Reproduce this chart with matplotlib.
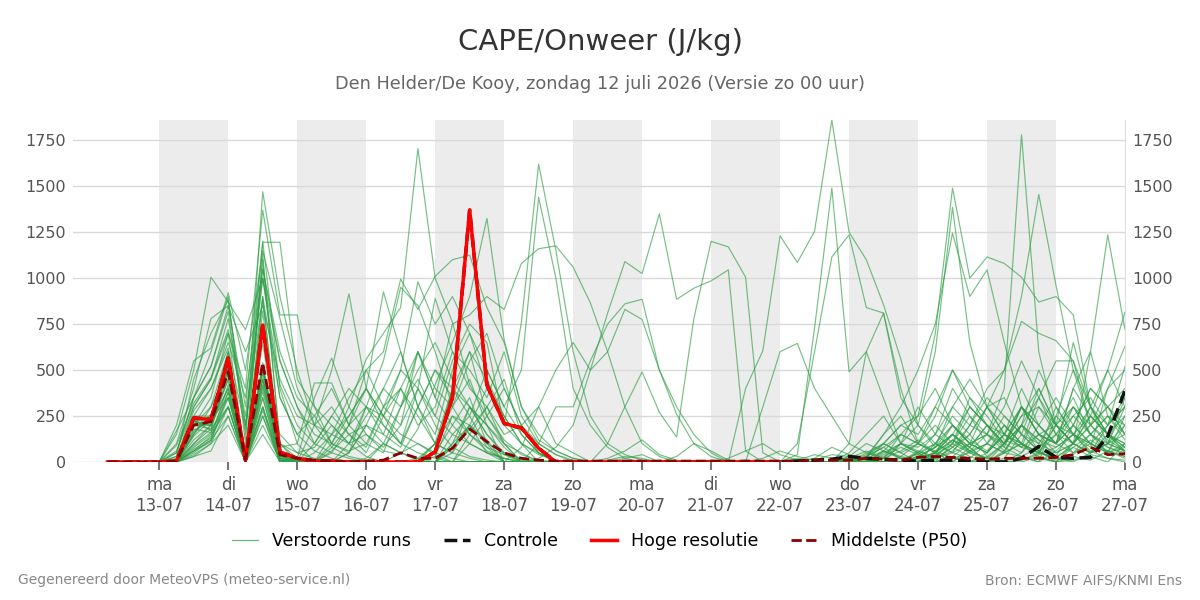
import matplotlib
matplotlib.use("Agg")
import matplotlib.pyplot as plt
from matplotlib.lines import Line2D
import pandas as pd

# run: zo 12-07 00 uur, 6-uurlijkse stappen vanaf 12-07 06:00
START = "2026-07-12 06:00"
N_STEPS = 60

weekdays = ["ma", "di", "wo", "do", "vr", "za", "zo", "ma", "di", "wo", "do", "vr", "za", "zo", "ma"]
day_labels = ["13-07", "14-07", "15-07", "16-07", "17-07", "18-07", "19-07", "20-07",
              "21-07", "22-07", "23-07", "24-07", "25-07", "26-07", "27-07"]

# hoge resolutie loopt t/m 22-07 00 uur
hoge_resolutie = [0, 0, 0, 0, 5, 240, 230, 565, 10, 745, 55, 20, 5, 5, 0, 0, 0, 0, 0,
                  55, 350, 1370, 420, 210, 185, 75, 0, 0, 0, 0, 0,
                  0, 0, 0, 0, 0, 0, 0, 0, 0]

controle = [0, 0, 0, 0, 5, 240, 230, 565, 10, 745, 55, 20, 5, 5, 0, 0, 0, 0, 0,
            55, 350, 1370, 420, 210, 185, 75, 0, 0, 0, 0, 0,
            0, 0, 0, 0, 0, 0, 0, 0, 0, 5, 10, 15, 30, 20, 15, 10, 5, 10, 10, 5,
            0, 0, 20, 85, 25, 20, 25, 140, 390]

middelste = [0, 0, 0, 0, 5, 200, 220, 490, 15, 540, 40, 20, 10, 5, 0, 5, 10, 50, 20,
             20, 75, 180, 110, 50, 20, 10, 5, 5, 5, 5, 5,
             5, 5, 5, 5, 5, 5, 5, 5, 5, 5, 10, 10, 10, 20, 15, 10, 25, 30, 25, 20,
             15, 20, 20, 20, 25, 40, 80, 40, 45]

verstoorde_runs = [
    [0, 0, 0, 0, 0, 150, 300, 500, 10, 900, 60, 20, 0, 100, 300, 560, 700, 840, 1705, 1000, 760, 420, 250, 120, 40, 10, 0, 0, 0, 20, 60,
     120, 40, 10, 0, 0, 0, 0, 20, 60, 30, 10, 40, 30, 10, 0, 20, 40, 10, 80, 30, 0, 20, 150, 60, 10, 40, 120, 60, 30],
    [0, 0, 0, 0, 100, 400, 780, 850, 300, 1195, 1195, 450, 300, 200, 100, 150, 60, 40, 180, 420, 650, 900, 1325, 665, 300, 150, 60, 20, 0, 0, 0,
     0, 10, 0, 0, 0, 20, 60, 100, 40, 10, 0, 0, 30, 100, 60, 20, 0, 30, 120, 50, 20, 0, 10, 40, 80, 150, 60, 20, 10],
    [0, 0, 0, 0, 50, 350, 600, 900, 100, 1470, 900, 500, 200, 80, 30, 10, 0, 0, 0, 0, 50, 200, 400, 250, 100, 40, 10, 0, 0, 0, 0,
     0, 0, 30, 100, 60, 10, 0, 0, 0, 0, 20, 80, 40, 10, 0, 0, 0, 20, 60, 150, 300, 200, 100, 50, 20, 100, 250, 150, 60],
    [0, 0, 0, 0, 20, 300, 450, 700, 400, 1370, 800, 800, 300, 100, 250, 400, 200, 100, 50, 20, 0, 0, 0, 0, 0, 0, 0, 0, 0, 0, 0,
     0, 0, 0, 0, 0, 0, 0, 0, 0, 10, 40, 20, 0, 0, 0, 0, 30, 80, 150, 60, 20, 0, 50, 200, 350, 200, 100, 50, 100],
    [0, 0, 0, 0, 0, 200, 200, 450, 0, 700, 50, 20, 350, 565, 300, 150, 80, 200, 400, 200, 80, 30, 10, 0, 0, 0, 0, 0, 0, 10, 30,
     20, 0, 0, 0, 0, 0, 0, 0, 0, 0, 0, 0, 0, 20, 60, 30, 10, 0, 30, 0, 0, 50, 100, 20, 0, 30, 10, 60, 20],
    [0, 0, 0, 0, 0, 220, 250, 550, 0, 420, 80, 100, 430, 430, 200, 100, 50, 300, 600, 350, 200, 100, 50, 20, 0, 0, 0, 0, 0, 0, 0,
     0, 0, 0, 0, 0, 0, 10, 0, 0, 0, 0, 0, 0, 0, 40, 100, 50, 0, 100, 50, 0, 100, 200, 350, 150, 50, 100, 200, 300],
    [0, 0, 0, 0, 0, 80, 150, 300, 0, 400, 20, 0, 200, 500, 915, 400, 250, 150, 100, 50, 20, 0, 0, 0, 0, 0, 0, 0, 0, 0, 0,
     0, 0, 0, 0, 10, 0, 0, 0, 0, 0, 0, 0, 0, 30, 80, 20, 0, 0, 20, 0, 10, 0, 0, 30, 0, 10, 40, 20, 0],
    [0, 0, 0, 0, 0, 200, 300, 600, 20, 1130, 100, 0, 0, 150, 250, 400, 925, 600, 300, 100, 50, 20, 0, 0, 0, 0, 0, 0, 0, 0, 0,
     0, 0, 0, 0, 0, 0, 0, 0, 0, 0, 0, 0, 30, 10, 0, 0, 60, 30, 100, 250, 150, 300, 550, 350, 200, 100, 50, 150, 250],
    [0, 0, 0, 0, 0, 200, 220, 400, 10, 500, 30, 10, 0, 0, 100, 300, 550, 950, 850, 600, 300, 150, 80, 40, 10, 0, 0, 0, 0, 0, 0,
     0, 0, 0, 0, 0, 0, 0, 0, 0, 0, 0, 0, 0, 0, 0, 0, 20, 50, 120, 80, 0, 10, 30, 0, 250, 500, 300, 150, 100],
    [0, 0, 0, 0, 0, 180, 160, 350, 0, 300, 20, 0, 0, 80, 200, 500, 600, 995, 830, 1010, 1100, 1125, 840, 650, 300, 120, 60, 20, 0, 0, 0,
     0, 0, 0, 0, 0, 0, 0, 0, 0, 0, 0, 0, 0, 0, 0, 30, 100, 60, 20, 0, 50, 150, 80, 300, 200, 100, 600, 250, 150],
    [0, 0, 0, 0, 50, 350, 520, 820, 150, 1200, 400, 100, 0, 0, 50, 300, 250, 400, 600, 350, 750, 800, 900, 830, 1080, 1160, 1175, 1060, 865, 600, 300,
     100, 30, 0, 0, 0, 0, 0, 0, 0, 0, 0, 0, 20, 60, 20, 0, 0, 100, 200, 120, 60, 150, 300, 150, 100, 200, 400, 300, 200],
    [0, 0, 0, 0, 0, 60, 120, 250, 0, 200, 10, 0, 0, 0, 0, 0, 100, 300, 450, 250, 550, 750, 650, 200, 760, 1620, 1150, 600, 250, 100, 40,
     10, 0, 0, 0, 0, 0, 0, 0, 0, 0, 0, 0, 0, 0, 20, 60, 120, 50, 0, 60, 150, 100, 200, 500, 300, 150, 80, 400, 500],
    [0, 0, 0, 0, 0, 200, 180, 480, 5, 450, 30, 0, 0, 0, 50, 200, 150, 80, 300, 500, 400, 250, 500, 300, 500, 1440, 1000, 400, 200, 80, 20,
     0, 0, 0, 0, 0, 0, 0, 0, 0, 0, 0, 0, 0, 30, 100, 50, 0, 20, 80, 150, 30, 0, 10, 50, 200, 650, 300, 150, 50],
    [0, 0, 0, 0, 0, 40, 100, 200, 0, 150, 0, 0, 0, 0, 0, 0, 0, 50, 100, 40, 0, 0, 0, 0, 0, 20, 80, 200, 500, 810, 1090,
     1025, 1350, 885, 945, 985, 1045, 60, 0, 0, 0, 0, 0, 0, 0, 0, 0, 20, 50, 150, 80, 0, 60, 200, 120, 30, 80, 150, 250, 120],
    [0, 0, 0, 0, 30, 250, 400, 650, 350, 1050, 550, 300, 150, 100, 60, 100, 300, 500, 400, 250, 150, 100, 50, 20, 0, 100, 300, 300, 550, 750, 860,
     885, 500, 260, 100, 30, 0, 0, 0, 0, 0, 0, 0, 0, 0, 0, 0, 30, 80, 200, 100, 50, 150, 100, 30, 0, 100, 200, 300, 400],
    [0, 0, 0, 0, 0, 210, 200, 520, 10, 540, 40, 0, 0, 60, 150, 200, 100, 50, 20, 0, 100, 200, 120, 0, 80, 300, 500, 650, 500, 600, 830,
     775, 500, 300, 150, 50, 0, 0, 0, 0, 0, 0, 0, 0, 0, 0, 0, 0, 50, 120, 60, 20, 100, 250, 400, 200, 100, 50, 100, 150],
    [0, 0, 0, 0, 0, 200, 350, 700, 20, 1100, 100, 20, 0, 0, 0, 0, 0, 0, 20, 100, 250, 150, 60, 20, 0, 0, 0, 0, 0, 100, 300,
     490, 270, 135, 780, 1200, 1170, 1005, 50, 0, 0, 0, 0, 0, 0, 0, 0, 0, 0, 30, 100, 150, 80, 300, 200, 100, 400, 250, 150, 80],
    [0, 0, 0, 0, 10, 280, 400, 620, 180, 1000, 420, 200, 100, 50, 20, 0, 0, 0, 0, 0, 100, 300, 150, 40, 0, 0, 0, 0, 0, 0, 0,
     0, 0, 0, 0, 0, 0, 400, 605, 1230, 1085, 1255, 1860, 1250, 1100, 855, 560, 200, 80, 300, 450, 300, 150, 80, 50, 200, 150, 100, 60, 30],
    [0, 0, 0, 0, 0, 70, 130, 420, 0, 350, 10, 0, 0, 0, 0, 0, 0, 0, 0, 50, 200, 350, 100, 0, 0, 0, 0, 0, 0, 0, 0,
     0, 0, 0, 0, 0, 0, 0, 0, 0, 40, 730, 1490, 490, 600, 345, 100, 50, 150, 400, 250, 100, 50, 200, 100, 50, 100, 300, 150, 100],
    [0, 0, 0, 0, 0, 30, 100, 300, 0, 250, 0, 0, 0, 0, 0, 0, 0, 0, 0, 0, 150, 250, 80, 0, 0, 0, 0, 0, 0, 0, 0,
     0, 0, 0, 0, 0, 0, 0, 0, 0, 100, 600, 1115, 1235, 840, 810, 400, 100, 250, 500, 300, 200, 100, 300, 150, 100, 250, 150, 80, 50],
    [0, 0, 0, 0, 0, 160, 250, 580, 20, 520, 50, 0, 0, 0, 0, 0, 0, 0, 0, 100, 300, 450, 200, 0, 0, 0, 0, 0, 0, 0, 20,
     40, 0, 0, 0, 0, 0, 0, 300, 600, 645, 400, 250, 100, 600, 810, 350, 200, 100, 50, 20, 100, 200, 100, 50, 150, 300, 200, 120, 60],
    [0, 0, 0, 0, 0, 220, 200, 560, 0, 450, 40, 10, 0, 0, 0, 0, 0, 0, 0, 0, 80, 180, 300, 100, 0, 0, 0, 0, 0, 0, 0,
     0, 0, 0, 0, 0, 0, 0, 0, 0, 0, 0, 0, 0, 50, 100, 200, 250, 700, 1490, 1000, 1115, 1080, 1005, 870, 900, 800, 300, 100, 60],
    [0, 0, 0, 0, 0, 140, 230, 500, 5, 520, 20, 0, 0, 0, 0, 0, 0, 0, 0, 30, 250, 200, 50, 0, 0, 0, 0, 0, 0, 0, 0,
     0, 0, 0, 0, 0, 0, 0, 0, 0, 0, 0, 0, 20, 0, 0, 100, 200, 600, 1385, 650, 300, 150, 400, 200, 100, 300, 150, 50, 200],
    [0, 0, 0, 0, 60, 300, 450, 780, 200, 900, 350, 150, 60, 20, 0, 0, 0, 0, 0, 60, 400, 600, 250, 100, 0, 0, 0, 0, 0, 0, 0,
     0, 0, 0, 0, 0, 0, 0, 0, 0, 0, 0, 0, 0, 30, 150, 300, 500, 750, 1245, 900, 1045, 650, 300, 150, 50, 100, 200, 300, 150],
    [0, 0, 0, 0, 0, 60, 110, 380, 0, 280, 0, 0, 0, 0, 0, 0, 0, 0, 0, 0, 0, 0, 0, 0, 0, 0, 0, 0, 0, 0, 0,
     0, 0, 0, 0, 0, 0, 0, 0, 0, 0, 0, 0, 0, 0, 50, 100, 80, 150, 300, 200, 150, 400, 1780, 600, 200, 100, 250, 150, 80],
    [0, 0, 0, 0, 0, 230, 170, 520, 0, 480, 10, 0, 0, 0, 0, 0, 0, 0, 0, 0, 0, 0, 0, 0, 0, 0, 0, 0, 0, 0, 0,
     0, 0, 0, 0, 0, 0, 0, 0, 0, 0, 0, 0, 0, 0, 30, 80, 40, 100, 250, 150, 300, 500, 900, 1455, 960, 500, 200, 100, 300],
    [0, 0, 0, 0, 0, 250, 250, 600, 30, 880, 60, 20, 0, 0, 0, 0, 0, 0, 0, 0, 0, 0, 0, 0, 0, 0, 0, 0, 0, 0, 0,
     0, 0, 0, 0, 0, 0, 0, 0, 0, 0, 0, 0, 0, 40, 100, 50, 100, 200, 100, 300, 200, 100, 300, 150, 100, 400, 600, 1235, 720],
    [0, 0, 0, 0, 0, 220, 210, 500, 10, 820, 40, 0, 0, 0, 0, 0, 0, 0, 0, 0, 0, 0, 0, 0, 0, 0, 0, 0, 0, 0, 0,
     0, 0, 0, 0, 0, 0, 0, 0, 0, 0, 0, 0, 0, 0, 0, 0, 50, 100, 50, 200, 400, 500, 765, 700, 660, 550, 300, 500, 815],
    [0, 0, 0, 0, 0, 50, 120, 350, 0, 420, 10, 0, 0, 0, 0, 0, 0, 0, 0, 0, 0, 0, 0, 0, 0, 0, 0, 0, 0, 0, 0,
     0, 0, 0, 0, 0, 0, 0, 0, 0, 0, 0, 0, 0, 0, 60, 150, 100, 300, 200, 100, 50, 200, 100, 350, 550, 550, 200, 400, 630],
    [0, 0, 0, 0, 0, 30, 60, 250, 0, 300, 0, 0, 0, 0, 0, 0, 0, 0, 0, 0, 0, 0, 0, 0, 0, 0, 0, 0, 0, 0, 0,
     0, 0, 0, 0, 0, 0, 0, 0, 0, 0, 0, 0, 0, 0, 0, 0, 0, 0, 20, 50, 100, 50, 30, 80, 150, 100, 50, 200, 520],
    [0, 0, 0, 0, 150, 500, 1005, 870, 720, 1000, 350, 150, 250, 100, 50, 200, 400, 600, 300, 150, 500, 700, 400, 200, 100, 50, 0, 0, 0, 0, 0,
     0, 0, 0, 0, 0, 0, 0, 0, 0, 0, 0, 0, 0, 30, 80, 150, 100, 50, 200, 100, 50, 150, 300, 200, 100, 50, 150, 80, 40],
    [0, 0, 0, 0, 200, 550, 620, 920, 500, 1150, 780, 400, 200, 300, 150, 50, 250, 500, 980, 750, 900, 700, 500, 300, 150, 50, 0, 0, 0, 0, 0,
     0, 0, 0, 0, 0, 0, 0, 0, 0, 0, 0, 0, 20, 0, 0, 0, 0, 60, 150, 80, 200, 150, 100, 50, 30, 200, 400, 300, 150],
    [0, 0, 0, 0, 30, 450, 700, 880, 200, 1050, 600, 350, 250, 400, 200, 300, 200, 100, 400, 890, 600, 400, 300, 150, 200, 300, 100, 50, 0, 0, 0,
     0, 0, 0, 0, 0, 0, 0, 0, 0, 0, 0, 0, 0, 0, 0, 0, 30, 80, 150, 60, 100, 250, 150, 60, 300, 150, 100, 50, 80],
    [0, 0, 0, 0, 170, 350, 520, 850, 600, 850, 450, 250, 200, 150, 350, 500, 300, 200, 600, 400, 300, 550, 700, 400, 200, 100, 40, 0, 0, 0, 0,
     0, 0, 0, 0, 0, 0, 0, 0, 0, 20, 0, 0, 0, 0, 60, 20, 0, 40, 100, 350, 250, 120, 80, 150, 200, 350, 150, 100, 350],
    [0, 0, 0, 0, 90, 320, 460, 720, 250, 1000, 550, 300, 100, 250, 150, 80, 300, 400, 200, 300, 600, 500, 350, 600, 250, 100, 40, 10, 0, 0, 0,
     0, 0, 0, 0, 0, 0, 0, 0, 0, 0, 0, 0, 0, 0, 20, 100, 60, 20, 50, 100, 150, 60, 200, 120, 80, 150, 250, 500, 300],
    [0, 0, 0, 0, 0, 100, 200, 400, 0, 300, 0, 0, 0, 0, 0, 20, 100, 50, 10, 100, 400, 300, 150, 50, 20, 0, 0, 0, 0, 0, 0,
     0, 0, 0, 0, 0, 0, 0, 0, 0, 0, 0, 0, 0, 0, 0, 0, 0, 0, 30, 0, 0, 50, 100, 50, 20, 0, 50, 100, 60],
    [0, 0, 0, 0, 0, 170, 230, 350, 30, 500, 100, 50, 20, 0, 0, 0, 0, 0, 0, 0, 0, 150, 300, 450, 150, 50, 0, 0, 0, 0, 0,
     0, 0, 0, 0, 0, 0, 0, 0, 0, 0, 0, 0, 0, 0, 0, 0, 50, 0, 0, 80, 200, 80, 30, 0, 60, 150, 50, 100, 200],
    [0, 0, 0, 0, 0, 100, 180, 300, 10, 450, 150, 50, 80, 200, 100, 30, 0, 0, 0, 0, 80, 200, 100, 50, 0, 0, 0, 0, 0, 0, 0,
     0, 0, 0, 0, 0, 0, 0, 0, 0, 0, 0, 0, 0, 0, 0, 0, 0, 50, 0, 0, 30, 100, 200, 60, 0, 80, 30, 0, 100],
    [0, 0, 0, 0, 0, 120, 200, 450, 0, 380, 20, 0, 100, 250, 400, 300, 150, 400, 250, 100, 50, 300, 200, 80, 0, 0, 0, 0, 0, 0, 0,
     0, 0, 0, 0, 0, 0, 0, 0, 0, 0, 0, 0, 50, 150, 250, 100, 300, 150, 80, 200, 350, 250, 150, 400, 200, 300, 150, 250, 200],
    [0, 0, 0, 0, 0, 90, 160, 380, 0, 350, 10, 0, 50, 150, 100, 250, 400, 300, 500, 650, 450, 300, 200, 100, 50, 0, 0, 0, 0, 0, 0,
     0, 0, 0, 0, 0, 0, 0, 0, 0, 0, 0, 0, 0, 0, 100, 200, 150, 300, 500, 350, 200, 100, 250, 300, 150, 250, 350, 200, 300],
    [0, 0, 0, 0, 0, 150, 260, 520, 0, 650, 30, 0, 0, 50, 200, 400, 250, 100, 300, 500, 350, 600, 450, 250, 100, 0, 0, 0, 0, 0, 0,
     0, 0, 0, 0, 0, 0, 0, 0, 0, 0, 0, 0, 100, 50, 20, 150, 250, 400, 200, 100, 300, 350, 150, 100, 250, 150, 300, 200, 350],
    [0, 0, 0, 0, 0, 60, 140, 300, 0, 250, 0, 0, 0, 0, 0, 0, 0, 0, 0, 0, 0, 100, 250, 400, 200, 50, 0, 0, 0, 0, 0,
     0, 0, 0, 0, 0, 0, 0, 0, 0, 0, 0, 0, 0, 20, 150, 250, 100, 50, 150, 300, 200, 100, 50, 150, 100, 200, 100, 50, 250],
]

times = pd.date_range(START, periods=N_STEPS, freq="6h")
days = pd.date_range("2026-07-13", "2026-07-27", freq="D")

for k, run in enumerate(verstoorde_runs):
    if len(run) != N_STEPS:
        raise ValueError("run %d has %d values" % (k, len(run)))

fig = plt.figure(figsize=(12, 6), dpi=100)
ax = fig.add_axes([73 / 1200, 1 - 462 / 600, (1125 - 73) / 1200, (462 - 120) / 600])

# grijze banden om de dag
for k in range(0, len(days) - 1, 2):
    ax.axvspan(days[k], days[k + 1], color="#ececec", lw=0, zorder=0)

green = "#2e9e45"
for run in verstoorde_runs:
    ax.plot(times, run, color=green, lw=0.85, alpha=0.65, zorder=2)

ax.plot(times, controle, color="#111111", ls="--", lw=2.5, zorder=3)
ax.plot(times[:len(hoge_resolutie)], hoge_resolutie, color="#ff0000", lw=2.5, zorder=4)
ax.plot(times, middelste, color="#8b0000", ls="--", lw=2, zorder=5)

ymax = max(max(r) for r in verstoorde_runs)
ax.set_ylim(0, ymax)
ax.set_xlim(pd.Timestamp("2026-07-11 18:00"), pd.Timestamp("2026-07-27 00:00"))

ax.set_yticks(range(0, 1751, 250))
ax.set_xticks(days)
ax.set_xticklabels([d + "\n" + l for d, l in zip(weekdays, day_labels)])

ax.set_axisbelow(True)
ax.grid(axis="y", color="#d9d9d9", lw=1)
ax.grid(axis="x", visible=False)

ax.tick_params(axis="y", left=False, right=False, length=0, labelleft=True, labelright=True,
               labelsize=11.5, labelcolor="#555555", pad=5)
ax.tick_params(axis="x", length=6, width=1.5, color="#777777", labelcolor="#555555",
               labelsize=12, pad=4)

for side in ["top", "left", "bottom"]:
    ax.spines[side].set_visible(False)
ax.spines["right"].set_color("#e0e0e0")

fig.text(0.5, 1 - 42 / 600, "CAPE/Onweer (J/kg)", ha="center", va="center",
         fontsize=21, color="#333333")
fig.text(0.5, 1 - 84 / 600, "Den Helder/De Kooy, zondag 12 juli 2026 (Versie zo 00 uur)",
         ha="center", va="center", fontsize=12.75, color="#666666")

handles = [
    Line2D([], [], color=green, lw=0.85, alpha=0.75),
    Line2D([], [], color="#111111", ls="--", lw=2.5),
    Line2D([], [], color="#ff0000", lw=2.5),
    Line2D([], [], color="#8b0000", ls="--", lw=2),
]
labels = ["Verstoorde runs", "Controle", "Hoge resolutie", "Middelste (P50)"]
fig.legend(handles, labels, loc="center", bbox_to_anchor=(0.5, 1 - 541 / 600), ncol=4,
           frameon=False, fontsize=12.5, handlelength=1.5, handletextpad=0.8,
           columnspacing=1.9)

fig.text(18 / 1200, 1 - 580 / 600, "Gegenereerd door MeteoVPS (meteo-service.nl)",
         ha="left", va="center", fontsize=10, color="#888888")
fig.text(1182 / 1200, 1 - 580 / 600, "Bron: ECMWF AIFS/KNMI Ens",
         ha="right", va="center", fontsize=10, color="#888888")

fig.savefig("out.png", dpi=100)
